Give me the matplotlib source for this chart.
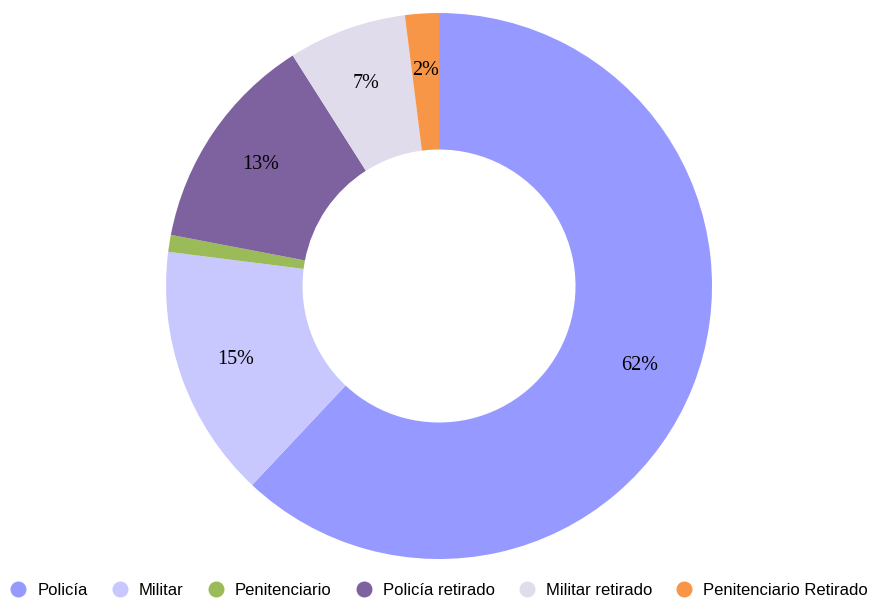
import matplotlib
matplotlib.use("Agg")
import matplotlib.pyplot as plt
from matplotlib.lines import Line2D

# slice data, clockwise from the top
categories = ["Policía", "Militar", "Penitenciario", "Policía retirado",
              "Militar retirado", "Penitenciario Retirado"]
shares = [62, 15, 1, 13, 7, 2]
colors = ["#9699ff", "#c8c8ff", "#9bbb59", "#7e62a0", "#e0dcec", "#f79646"]

fig = plt.figure(figsize=(8.71, 5.98), dpi=100)
ax = fig.add_axes([0.1906, 0.0652, 0.6269, 0.913])


def fmt(pct):
    # small slices get no label
    return "" if pct < 1.5 else "{:.0f}%".format(pct)


wedges, texts, autotexts = ax.pie(
    shares, colors=colors, startangle=90, counterclock=False,
    radius=1.0, autopct=fmt, pctdistance=0.79,
    wedgeprops=dict(width=0.5, linewidth=0),
    textprops=dict(family="Liberation Serif", fontsize=14.5, color="black"))
ax.set_xlim(-1, 1)
ax.set_ylim(-1, 1)
ax.set_aspect("equal")
ax.axis("off")

handles = [Line2D([], [], marker="o", linestyle="none", markersize=10.5,
                  markerfacecolor=c, markeredgecolor=c) for c in colors]
fig.legend(handles, categories, loc="center", bbox_to_anchor=(0.504, 0.0125),
           ncol=6, frameon=False, handlelength=1.0, handletextpad=0.65,
           columnspacing=1.42, borderaxespad=0, borderpad=0,
           prop=dict(family="Liberation Sans", size=12))

fig.savefig("out.png", dpi=100)
